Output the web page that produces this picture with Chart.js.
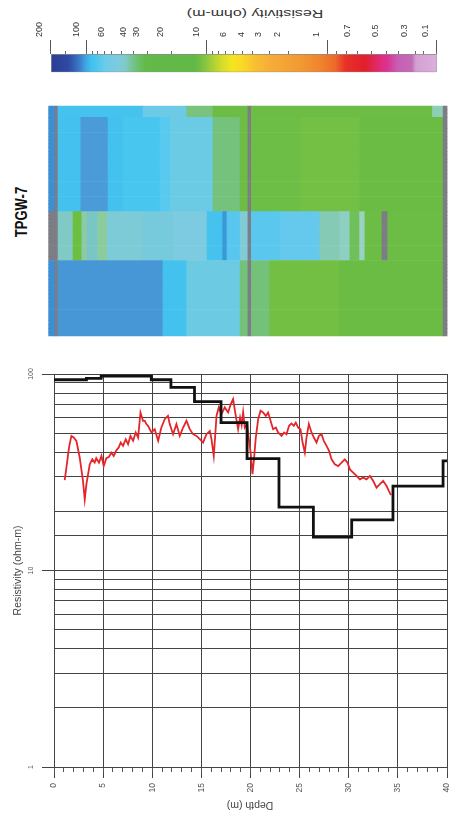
<!DOCTYPE html>
<html>
<head>
<meta charset="UTF-8">
<title>TPGW-7</title>
<script src="https://cdn.jsdelivr.net/npm/chart.js@4.4.1/dist/chart.umd.min.js"></script>
<style>
  body { margin:0; width:450px; height:824px; background:#fff; position:relative; overflow:hidden;
         font-family:"Liberation Sans", Arial, sans-serif; }
  canvas { position:absolute; left:0; }
  .lbl { position:absolute; white-space:nowrap; text-align:center; }
  #cbarTitle { left:155px; top:7px; width:200px; font-size:11px; line-height:14px; color:#333;
               transform:rotate(180deg) scaleX(1.45); }
  #well { left:-18.5px; top:204px; width:80px; font-size:13px; line-height:16px; font-weight:bold; color:#111;
          transform:rotate(-90deg) scaleY(1.3); }
  #depthTitle { left:200px; top:799px; width:100px; font-size:10.5px; line-height:14px; color:#444;
                transform:rotate(180deg); }
</style>
</head>
<body>
<div class="lbl" id="cbarTitle">Resistivity (ohm-m)</div>
<canvas id="cbar" width="450" height="85" style="top:0"></canvas>
<div class="lbl" id="well">TPGW-7</div>
<canvas id="section" width="450" height="275" style="top:85px"></canvas>
<canvas id="plot" width="450" height="464" style="top:360px"></canvas>
<div class="lbl" id="depthTitle">Depth (m)</div>
<script>
// ---------- colour bar ----------
const cbarValues = [200, 100, 60, 40, 30, 20, 10, 6, 4, 3, 2, 1, 0.7, 0.5, 0.3, 0.1];
const cbarPos    = [0, 9.4, 15.9, 21.6, 25.0, 31.2, 40.5, 47.5, 52.2, 56.6, 61.5, 71.6, 79.6, 87.0, 94.4, 100];
const cbarMajor  = [200, 100, 10, 1, 0.1];
const cbarMinor  = [150, 90, 80, 70, 50, 9, 8, 7, 5, 0.9, 0.8, 0.6, 0.4, 0.2];
const cbarStopPos = [0, 4.5, 6.1, 7.6, 9.2, 10.5, 12.0, 14.1, 17.2, 19.3, 20.8, 22.4, 24.5, 37.4, 39.5,
                     41.8, 44.4, 47.0, 49.6, 52.9, 56.8, 64.6, 69.8, 73.7, 76.3, 81.4, 84.8, 87.4, 90.0,
                     93.6, 94.6, 100];
const cbarStopColors = ['#2c3c93', '#2f4aa3', '#3560b6', '#3b7fcc', '#3fa8e2', '#3fc2ef', '#4fc6ee', '#6ccbe8',
                        '#7ccbe0', '#80caca', '#78c59a', '#6cc170', '#63ba4a', '#62b946', '#7cc242',
                        '#a8cf36', '#d4dc2a', '#f5e51f', '#f9d928', '#f8c030', '#f6ad38', '#f29a33',
                        '#ef842e', '#ed6a2b', '#e8322a', '#e31e2a', '#e02a6e', '#dc3495', '#c660b4',
                        '#c46ab8', '#d49fd2', '#dcb0dc'];

// ---------- resistivity section (rows along the profile, cells along depth) ----------
const bandRows = [3, 25, 13, 20];
const bandAEdges  = [-0.85, -0.15, 0.15, 8.9, 13.4, 16.1, 19.7, 20.05, 38.7, 39.8, 40.25];
const bandAColors = ['#3d8fd3', '#7d7d85', '#46c2ee', '#6ccae6', '#7ac37c', '#6cbd46', '#7d7d85', '#6cbd46', '#8ccfb5', '#7d7d85'];
const bandBEdges  = [-0.85, -0.15, 0.15, 2.5, 5.3, 6.85, 10.65, 11.7, 16.1, 18.9, 19.7, 20.05, 25.05, 31.2, 39.8, 40.25];
const bandBColors = ['#3d8fd3', '#7d7d85', '#44c1ee', '#4a9bd8', '#44c2ef', '#48c6f0', '#58c9ef', '#6ccbe4', '#74c27c',
                     '#6dbd45', '#7d7d85', '#6dbe47', '#74c044', '#6bbc45', '#7d7d85'];
const bandCEdges  = [-0.85, 0.15, 1.7, 2.6, 3.15, 4.25, 5.2, 8.9, 12.0, 15.5, 17.1, 17.55, 18.9, 19.7, 20.05, 23.0,
                     27.1, 29.15, 30.2, 31.2, 31.75, 33.5, 34.1, 39.8, 40.25];
const bandCColors = ['#7d7d85', '#80c9c4', '#6dbf3f', '#8ccaa8', '#78c7c4', '#8ccc9c', '#7ecbd8', '#76cadc', '#7ccbe0',
                     '#46c2ef', '#3a98d6', '#58c6ee', '#80cbd8', '#7d7d85', '#5ac8ee', '#64c9ec', '#84cab4',
                     '#8fcfc2', '#6fc05a', '#9ad1c0', '#6cbd45', '#7d7d85', '#6cbd45', '#7d7d85'];
const bandDEdges  = [-0.85, -0.15, 0.15, 10.95, 13.4, 18.9, 19.7, 20.05, 21.95, 29.15, 39.8, 40.25];
const bandDColors = ['#3d8fd3', '#7d7d85', '#4796d5', '#44c2ef', '#6ccae3', '#74c27a', '#7d7d85', '#74c27a', '#72bf43',
                     '#6bbc45', '#7d7d85'];

// ---------- resistivity vs depth ----------
const depthTicks = [0, 5, 10, 15, 20, 25, 30, 35, 40];
const resTicks = [1, 10, 100];
// layered model (top of layer, resistivity)
const modelTop = [0, 3.3, 4.8, 9.9, 11.9, 14.3, 17.0, 19.65, 22.9, 26.4, 30.3, 34.5, 39.6, 40];
const modelRes = [93.5, 95, 97.5, 93.5, 85.5, 72.4, 56.5, 37.1, 21.0, 14.8, 18.1, 26.9, 36.1, 36.1];
// measured log
const logDepth = [1.09, 1.26, 1.53, 1.77, 2.0, 2.28, 2.62, 2.95, 3.13, 3.3, 3.64, 3.9, 4.14, 4.3, 4.58, 4.83,
  5.06, 5.33, 5.6, 5.84, 6.08, 6.35, 6.59, 6.79, 7.03, 7.3, 7.54, 7.78, 8.05, 8.32, 8.56, 8.8, 9.06, 9.24,
  9.4, 9.57, 9.92, 10.25, 10.6, 10.93, 11.27, 11.6, 11.78, 12.12, 12.46, 12.8, 13.14, 13.48, 13.82, 14.15,
  14.5, 14.84, 15.17, 15.52, 15.86, 16.03, 16.26, 16.44, 16.54, 16.77, 17.05, 17.38, 17.72, 17.99, 18.23,
  18.47, 18.74, 18.94, 19.1, 19.25, 19.42, 19.65, 19.86, 20.03, 20.2, 20.34, 20.54, 20.78, 21.02, 21.28,
  21.56, 21.79, 22.04, 22.3, 22.58, 22.81, 23.16, 23.42, 23.66, 23.93, 24.17, 24.41, 24.61, 24.85, 25.09,
  25.3, 25.53, 25.7, 25.94, 26.21, 26.45, 26.72, 26.96, 27.23, 27.46, 27.74, 28.0, 28.25, 28.58, 28.92,
  29.27, 29.6, 29.88, 30.11, 30.45, 30.8, 31.13, 31.47, 31.81, 32.15, 32.48, 32.83, 33.17, 33.5, 33.85,
  34.08, 34.29];
const logRes = [28.8, 33.3, 42.3, 48.4, 47.5, 45.7, 37.5, 28.6, 23.0, 27.5, 34.7, 36.8, 35.4, 37.3, 35.4, 38.3,
  34.0, 37.3, 37.9, 39.8, 38.3, 40.9, 42.3, 44.8, 43.1, 46.6, 43.9, 48.4, 45.7, 50.4, 47.5, 63.7, 57.8, 57.8,
  55.6, 54.5, 50.4, 52.4, 45.7, 53.4, 58.9, 61.2, 55.6, 49.4, 55.6, 48.4, 53.4, 57.8, 52.4, 49.4,
  48.4, 46.6, 44.8, 49.4, 51.3, 46.6, 38.3, 51.3, 61.2, 67.6, 62.5, 67.6, 63.7, 70.3, 74.5,
  62.5, 52.4, 60.0, 55.0, 64.0, 53.4, 55.6, 45.7, 39.1, 30.9, 36.1, 47.5, 58.9, 65.0, 63.7,
  61.2, 63.7, 57.8, 52.4, 53.4, 50.4, 48.4, 50.4, 49.4, 54.5, 56.0, 54.5, 56.6, 53.4, 52.4,
  44.8, 39.8, 47.5, 55.6, 50.4, 47.5, 44.8, 48.4, 49.4, 45.7, 43.1, 40.6, 36.8, 34.7, 34.0,
  35.4, 36.8, 35.4, 32.7, 31.5, 30.3, 29.1, 29.7, 29.1, 30.3, 28.6, 26.4, 27.5, 28.6, 26.9,
  25.4, 24.2];

const noLegend = { legend: { display: false }, tooltip: { enabled: false } };
const clear = 'rgba(0,0,0,0)';

// colour bar position of any resistivity, interpolated in log between the labelled ticks
function cbarLevel(v) {
  for (let i = 0; i < cbarValues.length - 1; i++) {
    const a = cbarValues[i], b = cbarValues[i + 1];
    if (v <= a && v >= b) {
      const t = Math.log(a / v) / Math.log(a / b);
      return cbarPos[i] + t * (cbarPos[i + 1] - cbarPos[i]);
    }
  }
  return 0;
}

function cbarGradient(ctx) {
  const chart = ctx.chart;
  if (!chart.chartArea) return null;
  const xs = chart.scales.x;
  const x0 = xs.getPixelForValue(0), x1 = xs.getPixelForValue(100);
  const g = chart.ctx.createLinearGradient(x0, 0, x1, 0);
  cbarStopPos.forEach((p, i) => g.addColorStop(p / 100, cbarStopColors[i]));
  return g;
}

new Chart(document.getElementById('cbar'), {
  type: 'bar',
  data: {
    labels: ['cbar'],
    datasets: [{ data: [[0, 100]], backgroundColor: cbarGradient, borderColor: '#8c8c8c', borderWidth: 1,
                 borderSkipped: false, barPercentage: 1, categoryPercentage: 1, xAxisID: 'x' }]
  },
  options: {
    indexAxis: 'y', responsive: false, animation: false,
    layout: { padding: { left: 50.6, right: 13.3, top: 0, bottom: 12.7 } },
    plugins: noLegend,
    scales: {
      x: {
        type: 'linear', position: 'top', weight: 1, min: 0, max: 100,
        afterBuildTicks: s => { s.ticks = cbarValues.map(v => ({ value: cbarLevel(v) })); },
        afterFit: s => { s.height = 51; s.paddingLeft = 0; s.paddingRight = 0; },
        ticks: { minRotation: 90, maxRotation: 90, padding: 3, autoSkip: false, color: '#333',
                 font: { size: 9 }, callback: (v, i) => String(cbarValues[i]) },
        grid: { drawOnChartArea: false, tickLength: 11,
                tickColor: c => cbarMajor.includes(cbarValues[c.index]) ? '#555' : clear },
        border: { display: false }
      },
      xm: {
        type: 'linear', axis: 'x', position: 'top', weight: 0, min: 0, max: 100,
        afterBuildTicks: s => { s.ticks = cbarValues.concat(cbarMinor).map(v => ({ value: cbarLevel(v) })); },
        afterFit: s => { s.height = 3; s.paddingLeft = 0; s.paddingRight = 0; },
        ticks: { display: false },
        grid: { drawOnChartArea: false, tickLength: 3, color: '#666' },
        border: { display: false }
      },
      y: { type: 'category', display: false }
    }
  }
});

// section cells
const bandEdges = [bandAEdges, bandBEdges, bandCEdges, bandDEdges];
const bandColors = [bandAColors, bandBColors, bandCColors, bandDColors];
const cells = [], cellColors = [];
let row = 0;
bandRows.forEach((n, b) => {
  for (let r = 0; r < n; r++, row++) {
    bandColors[b].forEach((col, k) => {
      cells.push({ x: [bandEdges[b][k], bandEdges[b][k + 1]], y: row + 0.5 });
      cellColors.push(col);
    });
  }
});

new Chart(document.getElementById('section'), {
  type: 'bar',
  data: { datasets: [{ data: cells, backgroundColor: cellColors, borderWidth: 0,
                       barPercentage: 1, categoryPercentage: 1 }] },
  options: {
    indexAxis: 'y', responsive: false, animation: false,
    layout: { padding: { left: 48.3, right: 2.5, top: 2, bottom: 5 } },
    plugins: noLegend,
    scales: {
      x: { type: 'linear', min: -0.85, max: 40.25, display: false },
      y: { type: 'linear', min: 0, max: row, reverse: true, display: false }
    }
  }
});

// resistivity vs depth
const gridCol = '#444';
new Chart(document.getElementById('plot'), {
  type: 'line',
  data: {
    datasets: [
      { label: 'Model', data: modelTop.map((d, i) => ({ x: d, y: modelRes[i] })), stepped: 'before',
        borderColor: '#111', borderWidth: 2.8, pointRadius: 0, xAxisID: 'x', yAxisID: 'y' },
      { label: 'Log', data: logDepth.map((d, i) => ({ x: d, y: logRes[i] })),
        borderColor: '#e4262b', borderWidth: 1.8, pointRadius: 0, tension: 0, xAxisID: 'x', yAxisID: 'y' }
    ]
  },
  options: {
    responsive: false, animation: false,
    layout: { padding: { top: 14, right: 3, bottom: 22, left: 0 } },
    plugins: noLegend,
    scales: {
      x: {
        type: 'linear', position: 'bottom', min: 0, max: 40,
        afterBuildTicks: s => { s.ticks = depthTicks.map(v => ({ value: v })); },
        afterFit: s => { s.height = 35; s.paddingLeft = 0; s.paddingRight = 0; },
        ticks: { minRotation: 90, maxRotation: 90, padding: 5, autoSkip: false, color: '#555',
                 font: { size: 8.5 } },
        grid: { color: gridCol, tickLength: 11, tickColor: gridCol },
        border: { color: gridCol }
      },
      xm: {
        type: 'linear', axis: 'x', position: { y: 1 }, min: 0, max: 40,
        ticks: { display: false, stepSize: 1 },
        grid: { drawOnChartArea: false, tickLength: 5, color: '#555' },
        border: { display: false }
      },
      y: {
        type: 'logarithmic', min: 1, max: 100,
        afterFit: s => { s.width = 54; },
        ticks: { minRotation: 90, crossAlign: 'center', padding: 5, autoSkip: false, color: '#555',
                 font: { size: 7 },
                 callback: v => resTicks.some(r => Math.abs(r - v) < 1e-6) ? String(v) : '' },
        grid: { color: gridCol, tickLength: 12,
                tickColor: c => resTicks.some(r => Math.abs(r - c.tick.value) < 1e-6) ? gridCol : clear },
        border: { color: gridCol },
        title: { display: true, text: 'Resistivity (ohm-m)', color: '#444', font: { size: 10.5 },
                 padding: { top: 12, bottom: 0 } }
      }
    }
  }
});
</script>
</body>
</html>
